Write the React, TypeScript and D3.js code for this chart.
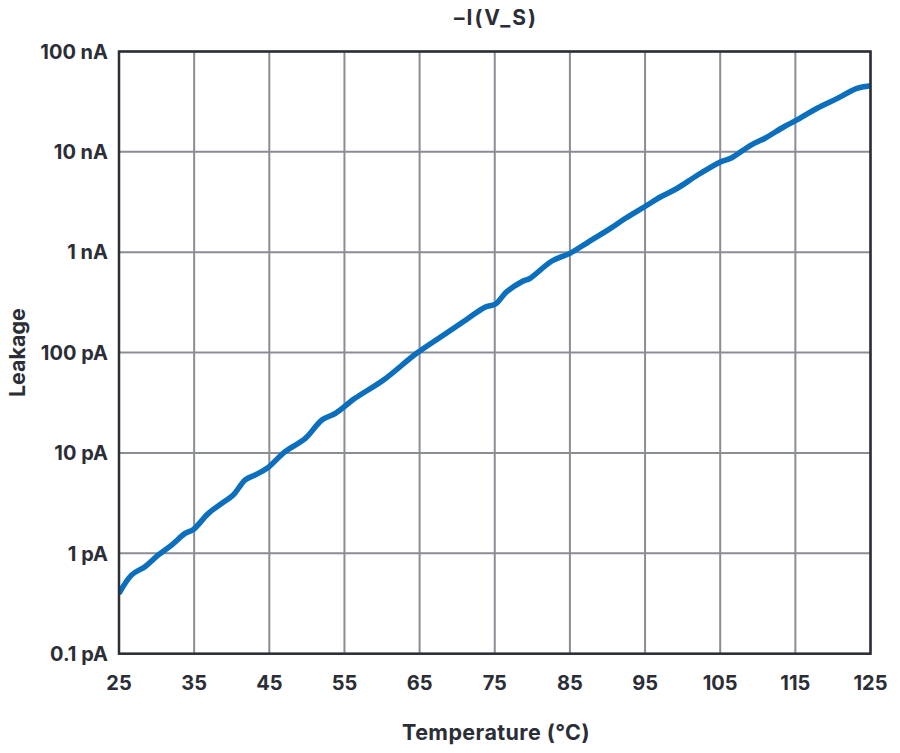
import React from "react";
import * as d3 from "d3";

const temperature = [25.1, 26.7, 28.5, 30.2, 32.0, 33.8, 34.9, 36.9, 38.7, 40.2, 41.8, 43.1, 44.7, 47.1, 49.8, 52.0, 53.8, 56.4, 60.2, 64.6, 68.2, 71.3, 73.7, 75.1, 76.6, 78.6, 79.7, 82.6, 85.0, 87.5, 90.4, 92.4, 95.1, 97.1, 99.3, 102.0, 105.1, 106.4, 109.1, 110.9, 113.5, 115.2, 117.9, 120.6, 123.2, 124.8];
// leakage in pA
const leakagePA = [0.41, 0.61, 0.74, 0.96, 1.21, 1.58, 1.73, 2.5, 3.15, 3.81, 5.38, 6.03, 7.03, 10.3, 14.0, 21.3, 24.8, 35.0, 53.3, 98.4, 150, 215, 283, 305, 405, 508, 550, 818, 975, 1270, 1730, 2180, 2890, 3570, 4340, 5880, 7980, 8630, 11700, 13600, 17800, 20800, 27200, 34100, 43000, 45300];

const xTicks = [25, 35, 45, 55, 65, 75, 85, 95, 105, 115, 125];
const yTicks = [0.1, 1, 10, 100, 1000, 10000, 100000];
const yTickLabels = ["0.1 pA", "1 pA", "10 pA", "100 pA", "1 nA", "10 nA", "100 nA"];

const title = "\u2013I(V_S)";
const xTitle = "Temperature (\u00B0C)";
const yTitle = "Leakage";

export default function App() {
  const W = 900, H = 753;
  const left = 119, right = 870.5, top = 51.5, bottom = 653.7;
  const x = d3.scaleLinear().domain([25, 125]).range([left, right]);
  const y = d3.scaleLog().domain([0.1, 100000]).range([bottom, top]);
  const line = d3
    .line<number>()
    .x((_, i) => x(temperature[i]))
    .y((d) => y(d))
    .curve(d3.curveCatmullRom.alpha(0.5));
  const textColor = "#2b2e36";
  const font = "Inter, 'Noto Sans', sans-serif";
  return (
    <svg
      width={W}
      height={H}
      style={{ position: "absolute", left: 0, top: 0, background: "#fff" }}
      fontFamily={font}
    >
      <rect x={0} y={0} width={W} height={H} fill="#fff" />
      <defs>
        <clipPath id="plot">
          <rect x={left} y={top} width={right - left} height={bottom - top} />
        </clipPath>
      </defs>
      {xTicks.map((t) => (
        <line key={"gx" + t} x1={x(t)} x2={x(t)} y1={top} y2={bottom} stroke="#8b8d94" strokeWidth={2} />
      ))}
      {yTicks.map((t) => (
        <line key={"gy" + t} x1={left} x2={right} y1={y(t)} y2={y(t)} stroke="#8b8d94" strokeWidth={2} />
      ))}
      <path
        d={line(leakagePA) || ""}
        fill="none"
        stroke="#0b6fbd"
        strokeWidth={5.5}
        strokeLinecap="round"
        strokeLinejoin="round"
        clipPath="url(#plot)"
      />
      <rect x={left} y={top} width={right - left} height={bottom - top} fill="none" stroke={textColor} strokeWidth={2.5} />
      {yTicks.map((t, i) => (
        <text
          key={"ly" + t}
          x={108}
          y={y(t)}
          dy="0.36em"
          textAnchor="end"
          fontSize={20}
          fontWeight={700}
          fill={textColor}
        >
          {yTickLabels[i]}
        </text>
      ))}
      {xTicks.map((t) => (
        <text key={"lx" + t} x={x(t)} y={689.5} textAnchor="middle" fontSize={20} fontWeight={700} fill={textColor}>
          {t}
        </text>
      ))}
      <text x={496} y={25} textAnchor="middle" fontSize={21} letterSpacing={2} fontWeight={700} fill={textColor}>
        {title}
      </text>
      <text x={496} y={740} textAnchor="middle" fontSize={21.5} letterSpacing={0.4} fontWeight={700} fill={textColor}>
        {xTitle}
      </text>
      <text
        transform={`translate(24.5, ${(top + bottom) / 2}) rotate(-90)`}
        textAnchor="middle"
        fontSize={21.5}
        fontWeight={700}
        fill={textColor}
      >
        {yTitle}
      </text>
    </svg>
  );
}
